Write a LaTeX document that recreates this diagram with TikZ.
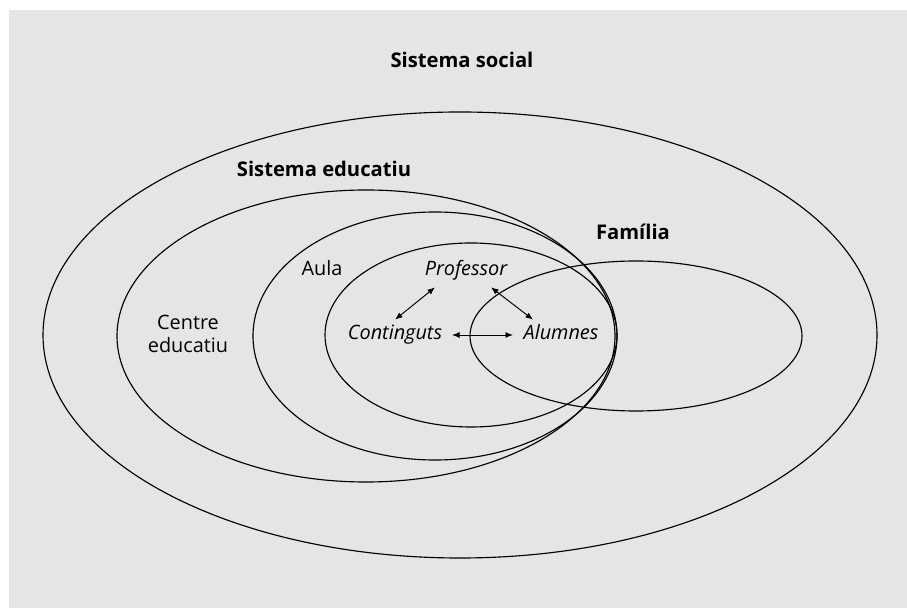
\documentclass[tikz,border=0pt]{standalone}
\usepackage{fontspec}
\setmainfont{Open Sans}
\usepackage{xcolor}
\usetikzlibrary{arrows.meta}
\definecolor{panel}{HTML}{E4E5E4}
\tikzset{
	ring/.style={line width=0.65pt},
	word/.style={anchor=base, inner sep=0pt, text height=0.3cm, text depth=0.1cm,
			font=\fontsize{11.3}{13}\selectfont},
	title/.style={word, font=\fontsize{11.5}{13}\selectfont\bfseries},
	actor/.style={word, font=\fontsize{11.3}{13}\selectfont\itshape},
	link/.style={{Latex[length=1.5mm,width=1.2mm]}-{Latex[length=1.5mm,width=1.2mm]}, line width=0.55pt}
}

\begin{document}
\begin{tikzpicture}
	\useasboundingbox (0,0) rectangle (18.14,12.16);
	\fill[panel] (0.18,0) rectangle (18.14,11.96);

	% nested systems
	\draw[ring] (9.20,5.46) ellipse [x radius=8.34, y radius=4.46];
	\draw[ring] (7.32,5.44) ellipse [x radius=4.98, y radius=2.92];
	\draw[ring] (8.70,5.44) ellipse [x radius=3.64, y radius=2.48];
	\draw[ring] (9.42,5.46) ellipse [x radius=2.92, y radius=1.84];
	\draw[ring] (12.72,5.44) ellipse [x radius=3.32, y radius=1.50];

	\node[title] (social) at (9.24,10.80) {Sistema social};
	\node[title] (educ) at (6.48,8.62) {Sistema educatiu};
	\node[title] (fam) at (12.66,7.36) {Família};
	\node[word] (aula) at (6.44,6.64) {Aula};
	\node[word, anchor=center, align=center, text height=, text depth=] (centre) at (3.76,5.48) {Centre\\educatiu};

	\node[actor] (prof) at (9.32,6.64) {Professor};
	\node[actor] (cont) at (7.90,5.36) {Continguts};
	\node[actor] (alum) at (11.22,5.36) {Alumnes};

	\draw[link] ([xshift=-0.62cm,yshift=-0.12cm]prof.south) -- ([yshift=0.1cm]cont.north);
	\draw[link] ([xshift=0.5cm,yshift=-0.12cm]prof.south) -- ([xshift=-0.56cm,yshift=0.1cm]alum.north);
	\draw[link] ([xshift=1.14cm]cont.center) -- ([xshift=-0.96cm]alum.center);
\end{tikzpicture}
\end{document}
